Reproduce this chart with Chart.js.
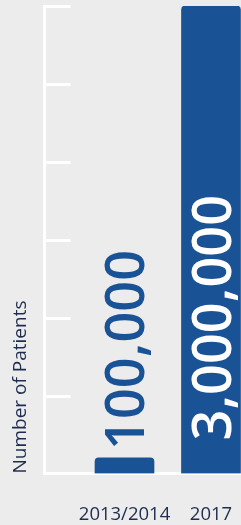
<!DOCTYPE html>
<html>
<head>
<meta charset="utf-8">
<script src="https://cdn.jsdelivr.net/npm/chart.js@4/dist/chart.umd.min.js"></script>
<style>
  html, body { margin: 0; padding: 0; background: #ececec; }
  #chart-bar { display: block; }
</style>
</head>
<body>
<canvas id="chart-bar" width="241" height="525"></canvas>
<script>
// Chart data
const CATEGORIES = ["2013/2014", "2017"];
const CATEGORY_POS = [1, 2];
const PATIENTS = [100000, 3000000];
const Y_MAX = 3000000;
const Y_STEP = 500000;

const BLUE = "#1a5296";
const INK = "#1e2d4f";

// short white tick marks inside the plot, from the y axis
const innerTicks = {
  id: "innerTicks",
  beforeDatasetsDraw(chart) {
    const { ctx, chartArea } = chart;
    const yScale = chart.scales.y;
    ctx.save();
    ctx.strokeStyle = "#ffffff";
    ctx.lineWidth = 3;
    yScale.ticks.forEach((t) => {
      if (t.value === 0) return;
      const py = Math.round(yScale.getPixelForValue(t.value)) + 0.5;
      ctx.beginPath();
      ctx.moveTo(chartArea.left, py);
      ctx.lineTo(chartArea.left + 26, py);
      ctx.stroke();
    });
    ctx.restore();
  },
};

// rotated value labels
const valueLabels = {
  id: "valueLabels",
  afterDatasetsDraw(chart) {
    const { ctx } = chart;
    const meta = chart.getDatasetMeta(0);
    meta.data.forEach((bar, i) => {
      const { x, y, base } = bar.getProps(["x", "y", "base"], true);
      const text = PATIENTS[i].toLocaleString("en-US");
      ctx.save();
      ctx.font = '600 54px "Open Sans"';
      const w = ctx.measureText(text).width;
      const inside = base - y > w + 40;
      ctx.translate(x + 4.5, inside ? base - 33 : y - 8);
      ctx.rotate(-Math.PI / 2);
      ctx.textAlign = "left";
      ctx.textBaseline = "middle";
      ctx.fillStyle = inside ? "#ffffff" : BLUE;
      ctx.fillText(text, 0, 0);
      ctx.restore();
    });
  },
};

const DATA = {
  datasets: [
    {
      label: "Number of Patients",
      data: PATIENTS.map((v, i) => ({ x: CATEGORY_POS[i], y: v })),
      backgroundColor: BLUE,
      borderRadius: 4,
      borderSkipped: "bottom",
      barThickness: 59,
    },
  ],
};

const CONFIG = {
  type: "bar",
  data: DATA,
  options: {
    responsive: false,
    animation: false,
    layout: {
      padding: { top: 6, right: 0, bottom: 0, left: 6 },
    },
    plugins: {
      legend: { display: false },
      tooltip: { enabled: false },
    },
    scales: {
      x: {
        type: "linear",
        offset: false,
        min: 0.075,
        max: 2.347,
        afterBuildTicks: (scale) => {
          scale.ticks = CATEGORY_POS.map((v) => ({ value: v }));
        },
        afterFit: (scale) => {
          scale.height = 51.5;
          scale.paddingLeft = 0;
          scale.paddingRight = 0;
        },
        border: { color: "#ffffff", width: 3 },
        grid: { display: false, drawTicks: false },
        ticks: {
          callback: (v) => CATEGORIES[CATEGORY_POS.indexOf(v)],
          color: INK,
          font: { family: "Open Sans", size: 18.5 },
          padding: 30,
          maxRotation: 0,
          autoSkip: false,
        },
      },
      y: {
        min: 0,
        max: Y_MAX,
        afterFit: (scale) => {
          scale.width = 38.5;
          scale.paddingTop = 0;
          scale.paddingBottom = 0;
        },
        border: { color: "#ffffff", width: 3 },
        grid: { display: false, drawTicks: false },
        ticks: { display: false, stepSize: Y_STEP },
        title: {
          display: true,
          text: "Number of Patients",
          align: "start",
          color: INK,
          font: { family: "Open Sans", size: 19 },
          padding: { top: 3, bottom: 7 },
        },
      },
    },
  },
  plugins: [innerTicks, valueLabels],
};

new Chart(document.getElementById("chart-bar"), CONFIG);
</script>
</body>
</html>
